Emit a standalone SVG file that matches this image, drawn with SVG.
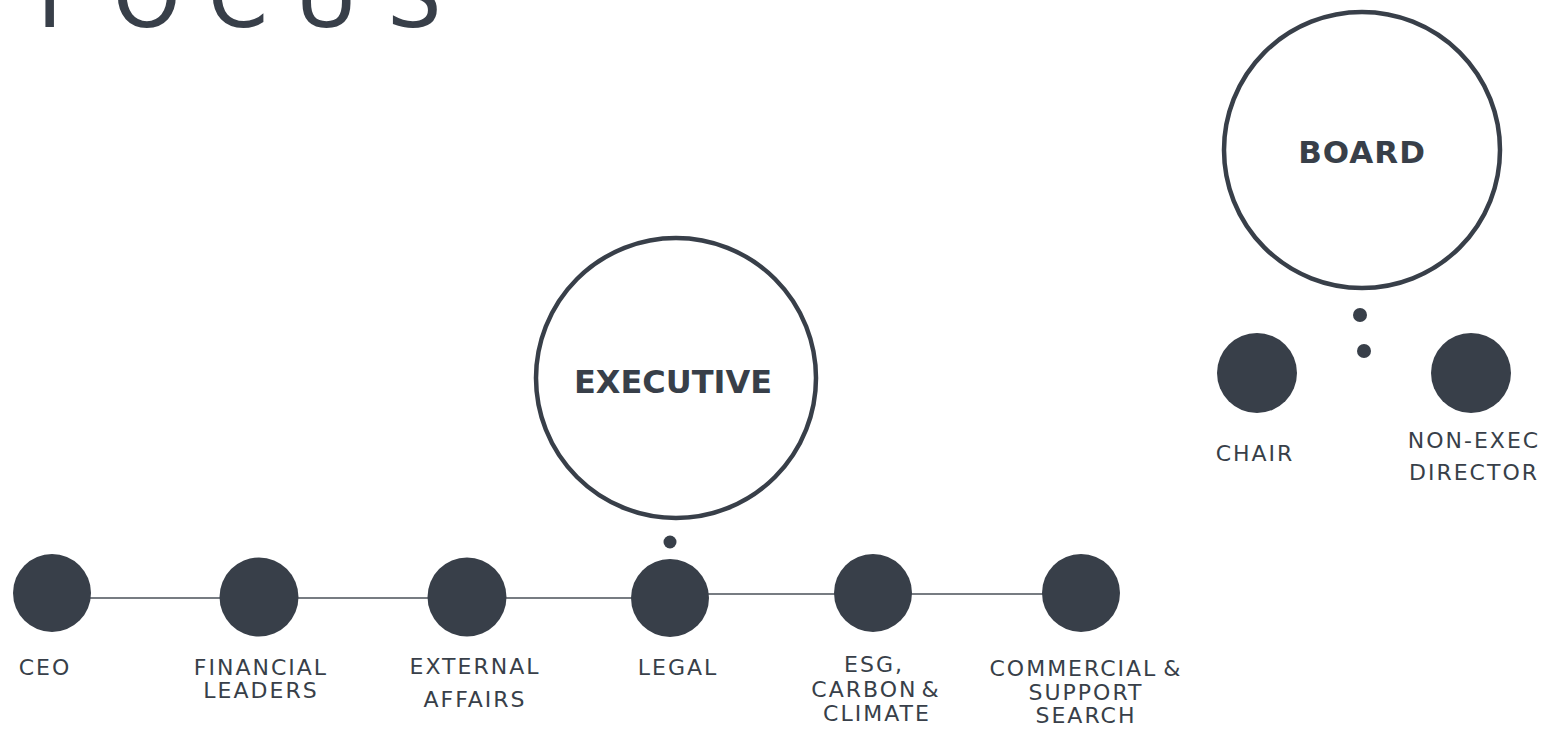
<svg xmlns="http://www.w3.org/2000/svg" width="1553" height="730" viewBox="0 0 1553 730">
<style>
.bg{fill:#ffffff}
.dot{fill:#383f49}
.ring{fill:#ffffff;stroke:#383f49;stroke-width:4.5}
.lbl{font-family:"DejaVu Sans","Liberation Sans",sans-serif;font-size:22px;letter-spacing:2px;fill:#383f49;text-anchor:middle}
.big{font-family:"DejaVu Sans","Liberation Sans",sans-serif;font-weight:bold;fill:#383f49;text-anchor:middle}
.title{font-family:"DejaVu Sans","Liberation Sans",sans-serif;font-size:86px;fill:#383f49}
.conn{stroke:#4a5058;stroke-width:1.6;fill:none}
</style>
<rect class="bg" x="0" y="0" width="1553" height="730"/>
<text class="title" x="37 113 208 295 387" y="27">FOCUS</text>
<g id="connectors">
<line class="conn" x1="52" y1="598" x2="670" y2="598"/>
<line class="conn" x1="670" y1="594" x2="1081" y2="594"/>
</g>
<g id="executive">
<circle class="ring" cx="676" cy="378" r="140"/>
<text class="big" x="673" y="393" font-size="32">EXECUTIVE</text>
<circle class="dot" cx="670" cy="542" r="6.5"/>
</g>
<g id="board">
<circle class="ring" cx="1362" cy="150" r="138"/>
<text class="big" x="1362" y="163" font-size="31" letter-spacing="1">BOARD</text>
<circle class="dot" cx="1360" cy="315" r="7"/>
<circle class="dot" cx="1364" cy="351" r="7"/>
</g>
<g id="ceo">
<circle class="dot" cx="52" cy="593" r="39"/>
<text class="lbl" x="45" y="675">CEO</text>
</g>
<g id="financial">
<circle class="dot" cx="259" cy="597" r="39.5"/>
<text class="lbl" x="261" y="675">FINANCIAL</text>
<text class="lbl" x="261" y="698">LEADERS</text>
</g>
<g id="external">
<circle class="dot" cx="467" cy="597" r="39.5"/>
<text class="lbl" x="475" y="674">EXTERNAL</text>
<text class="lbl" x="475" y="707">AFFAIRS</text>
</g>
<g id="legal">
<circle class="dot" cx="670" cy="598" r="39"/>
<text class="lbl" x="678" y="675">LEGAL</text>
</g>
<g id="esg">
<circle class="dot" cx="873" cy="593" r="39"/>
<text class="lbl" x="874" y="672">ESG,</text>
<text class="lbl" x="876" y="697" word-spacing="-5">CARBON &amp;</text>
<text class="lbl" x="877" y="721">CLIMATE</text>
</g>
<g id="commercial">
<circle class="dot" cx="1081" cy="593" r="39"/>
<text class="lbl" x="1086" y="676" word-spacing="-3">COMMERCIAL &amp;</text>
<text class="lbl" x="1086" y="700">SUPPORT</text>
<text class="lbl" x="1086" y="723">SEARCH</text>
</g>
<g id="chair">
<circle class="dot" cx="1257" cy="373" r="40"/>
<text class="lbl" x="1255" y="461">CHAIR</text>
</g>
<g id="nonexec">
<circle class="dot" cx="1471" cy="373" r="40"/>
<text class="lbl" x="1474" y="448">NON-EXEC</text>
<text class="lbl" x="1474" y="480">DIRECTOR</text>
</g>
</svg>
